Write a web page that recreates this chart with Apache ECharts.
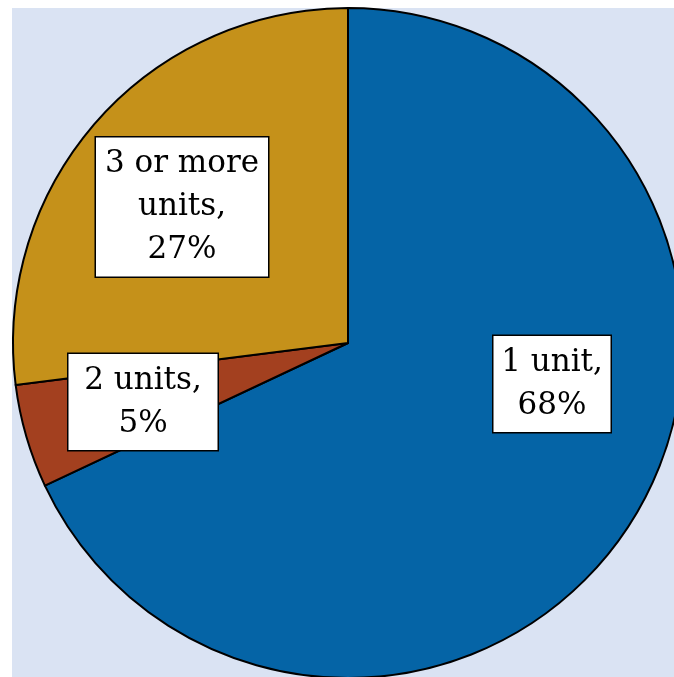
<!DOCTYPE html>
<html>
<head>
<meta charset="utf-8">
<script src="https://cdn.jsdelivr.net/npm/echarts@6/dist/echarts.min.js"></script>
<style>
  html, body { margin: 0; padding: 0; background: #fff; }
  #bg { position: absolute; left: 12px; top: 8px; width: 662px; height: 669px; background: #dae3f3; }
  #chart { position: absolute; left: 0; top: 0; width: 674px; height: 677px; }
</style>
</head>
<body>
<div id="bg"></div>
<div id="chart"></div>
<script>
// data
const categories = ['1 unit', '2 units', '3 or more units']
const shares = [68, 5, 27]
const labelTexts = ['1 unit,\n68%', '2 units,\n5%', '3 or more\nunits,\n27%']

const colors = ['#0564a6', '#a3401f', '#c5911a']
// label box centres and inner widths, px
const labelSpots = [[552, 384], [143, 402], [182, 207]]
const labelWidths = [101, 133, 156]

const chart = echarts.init(document.getElementById('chart'))
chart.setOption({
  animation: false,
  series: [{
    type: 'pie',
    center: [348, 343],
    radius: 335,
    startAngle: 90,
    clockwise: true,
    itemStyle: { borderColor: '#000', borderWidth: 2 },
    label: {
      show: true,
      position: 'inside',
      formatter: p => labelTexts[p.dataIndex],
      fontFamily: 'DejaVu Serif',
      fontSize: 31,
      lineHeight: 43,
      color: '#000',
      backgroundColor: '#fff',
      borderColor: '#000',
      borderWidth: 1.5,
      padding: [5, 8, 5, 8],
      overflow: 'none',
      align: 'center',
      verticalAlign: 'middle'
    },
    labelLine: { show: false },
    labelLayout: p => ({ x: labelSpots[p.dataIndex][0], y: labelSpots[p.dataIndex][1] }),
    emphasis: { disabled: true },
    data: categories.map((c, i) => ({
      name: c,
      value: shares[i],
      itemStyle: { color: colors[i] },
      label: { width: labelWidths[i], overflow: 'none' }
    }))
  }]
})
</script>
</body>
</html>
